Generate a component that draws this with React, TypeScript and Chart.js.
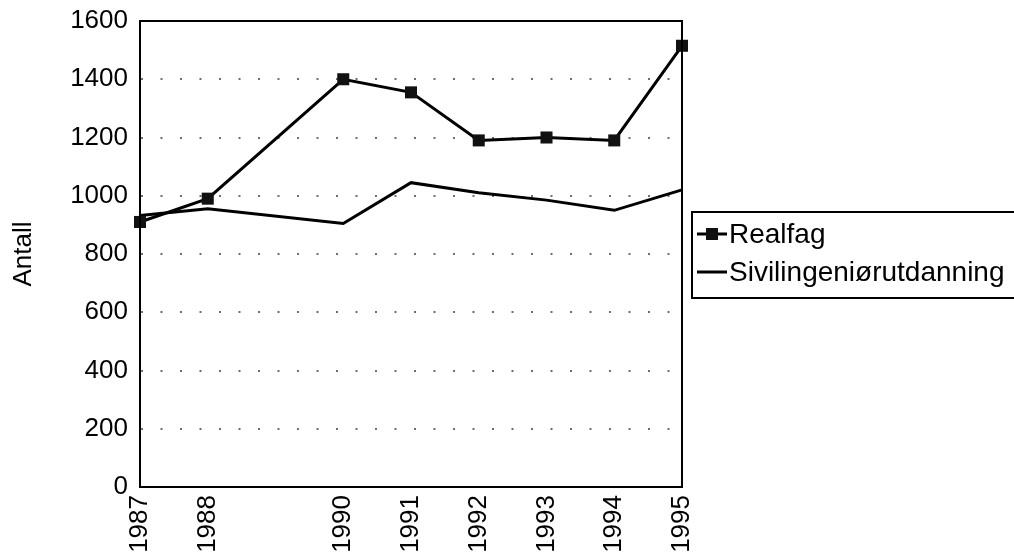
import React, { useEffect, useRef } from "react";
import { Chart, registerables } from "chart.js";

Chart.register(...registerables);

// Years on the x axis (1989 is missing in the series but keeps its space)
const years = [1987, 1988, 1990, 1991, 1992, 1993, 1994, 1995];
const realfag = [910, 990, 1400, 1355, 1190, 1200, 1190, 1515];
const sivilingenior = [932, 955, 905, 1045, 1010, 985, 950, 1020];
const seriesNames = ["Realfag", "Sivilingeniørutdanning"];
const yTicks = [0, 200, 400, 600, 800, 1000, 1200, 1400, 1600];
const yTitle = "Antall";

const FONT = "'Liberation Sans', Arial, Helvetica, sans-serif";

// Frame around the plot area plus a boxed legend to the right of it
const frameAndLegend = {
  id: "frameAndLegend",
  afterDraw(chart: any) {
    const { ctx, chartArea } = chart;
    ctx.save();
    ctx.strokeStyle = "#000";
    ctx.lineWidth = 2;
    ctx.strokeRect(
      chartArea.left,
      chartArea.top,
      chartArea.right - chartArea.left,
      chartArea.bottom - chartArea.top
    );

    // legend box
    const bx = 692;
    const by = 212;
    ctx.strokeRect(bx, by, 400, 86);
    const rows = [234, 272];
    ctx.font = `28px ${FONT}`;
    ctx.textBaseline = "middle";
    ctx.textAlign = "left";
    chart.data.datasets.forEach((ds: any, i: number) => {
      const y = rows[i];
      ctx.beginPath();
      ctx.lineWidth = 3;
      ctx.strokeStyle = ds.borderColor;
      ctx.moveTo(697, y);
      ctx.lineTo(727, y);
      ctx.stroke();
      if (ds.pointRadius > 0) {
        ctx.fillStyle = ds.pointBackgroundColor;
        ctx.fillRect(706, y - 6, 12, 12);
      }
      ctx.fillStyle = "#000";
      ctx.fillText(ds.label, 729, y + 1);
    });
    ctx.restore();
  },
};

export default function App() {
  const ref = useRef<HTMLCanvasElement>(null);

  useEffect(() => {
    if (!ref.current) return;
    const chart = new Chart(ref.current, {
      type: "line",
      data: {
        datasets: [
          {
            label: seriesNames[0],
            data: years.map((x, i) => ({ x, y: realfag[i] })),
            borderColor: "#000",
            borderWidth: 3,
            pointStyle: "rect",
            pointRadius: 8.5,
            pointBackgroundColor: "#111",
            pointBorderColor: "#111",
            pointBorderWidth: 0,
            tension: 0,
            clip: false,
          },
          {
            label: seriesNames[1],
            data: years.map((x, i) => ({ x, y: sivilingenior[i] })),
            borderColor: "#000",
            borderWidth: 3,
            pointRadius: 0,
            pointBackgroundColor: "#000",
            tension: 0,
            clip: false,
          },
        ],
      },
      options: {
        animation: false,
        responsive: false,
        maintainAspectRatio: false,
        layout: { padding: { top: 21, right: 332, bottom: 0, left: 0 } },
        plugins: {
          legend: { display: false },
          tooltip: { enabled: false },
        },
        scales: {
          x: {
            type: "linear",
            min: years[0],
            max: years[years.length - 1],
            afterBuildTicks: (scale: any) => {
              scale.ticks = years.map((v) => ({ value: v }));
            },
            afterFit: (scale: any) => {
              scale.height = 71;
              scale.paddingLeft = 0;
              scale.paddingRight = 0;
            },
            grid: { display: false, drawTicks: false },
            border: { display: true, color: "#000", width: 2 },
            ticks: {
              minRotation: 90,
              maxRotation: 90,
              autoSkip: false,
              padding: 8,
              color: "#000",
              font: { family: FONT, size: 26 },
              callback: (v: any) => String(v),
            },
          },
          y: {
            min: yTicks[0],
            max: yTicks[yTicks.length - 1],
            afterBuildTicks: (scale: any) => {
              scale.ticks = yTicks.map((v) => ({ value: v }));
            },
            afterFit: (scale: any) => {
              scale.width = 140;
              scale.paddingTop = 0;
              scale.paddingBottom = 0;
            },
            grid: {
              drawTicks: false,
              lineWidth: 2,
              color: (c: any) =>
                c.tick && (c.tick.value === 0 || c.tick.value === 1600)
                  ? "rgba(0,0,0,0)"
                  : "#6e6e6e",
            },
            border: { display: true, color: "#000", width: 2, dash: [2, 17.5] },
            ticks: {
              padding: 12,
              color: "#000",
              font: { family: FONT, size: 26 },
              callback: (v: any) => String(v),
            },
            title: {
              display: true,
              text: yTitle,
              color: "#000",
              font: { family: FONT, size: 26 },
              padding: { top: 8, bottom: 0 },
            },
          },
        },
      },
      plugins: [frameAndLegend],
    });
    return () => chart.destroy();
  }, []);

  return (
    <div style={{ position: "absolute", left: 0, top: 0, width: 1014, height: 558, background: "#fff" }}>
      <canvas ref={ref} width={1014} height={558} style={{ display: "block" }} />
    </div>
  );
}
